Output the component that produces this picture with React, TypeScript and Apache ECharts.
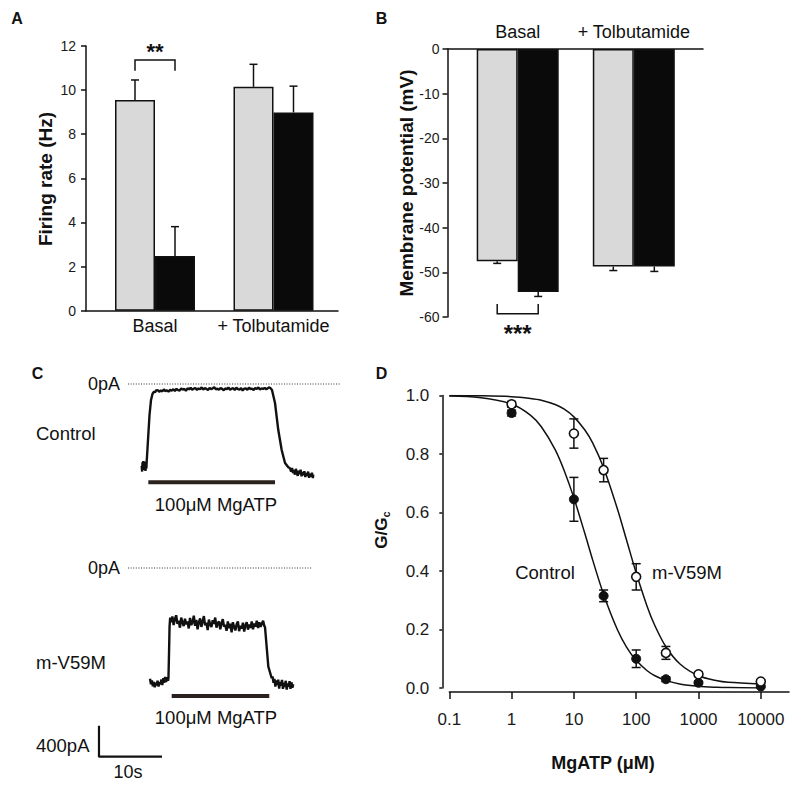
import React, { useEffect, useRef } from 'react';
import * as echarts from 'echarts';

const FONT = '"Liberation Sans", Arial, Helvetica, sans-serif';
const INK = '#111111';

// ---------- Panel A: firing rate ----------
const groupsA = ['Basal', '+ Tolbutamide'];
const firingControl = [9.55, 10.15];
const firingControlErrTop = [10.46, 11.17];
const firingMutant = [2.48, 8.99];
const firingMutantErrTop = [3.81, 10.18];
const sigA = { group: 0, level: 11.37, leg: 10.88, label: '**' };

// ---------- Panel B: membrane potential ----------
const groupsB = ['Basal', '+ Tolbutamide'];
const vmControl = [-47.5, -48.7];
const vmControlErrBottom = [-48.0, -49.6];
const vmMutant = [-54.4, -48.7];
const vmMutantErrBottom = [-55.4, -49.8];
const sigB = { group: 0, level: -59.3, leg: -57.1, label: '***' };

// ---------- Panel C: current traces [time s, current pA] ----------
const controlTrace: number[][] = [
  [17.73, -1058], [17.8, -1130], [17.86, -1010], [17.93, -1110], [17.98, -994], [18.05, -1080], [18.13, -1000],
  [18.2, -1095], [18.25, -1019], [18.33, -1120], [18.41, -1040], [18.47, -1090], [18.52, -1006],
  [18.73, -723], [18.97, -400], [19.21, -206], [19.44, -129], [19.68, -97], [19.85, -108], [20.0, -84],
  [20.25, -78], [20.5, -101], [20.75, -84], [21.0, -95], [21.25, -70], [21.5, -92], [21.75, -81], [22.0, -99],
  [22.25, -74], [22.5, -86], [22.75, -68], [23.0, -90], [23.25, -62], [23.5, -79], [23.75, -85], [24.0, -57],
  [24.25, -73], [24.5, -64], [24.75, -88], [25.0, -55], [25.25, -69], [25.5, -48], [25.75, -75], [26.0, -60],
  [26.25, -52], [26.5, -77], [26.75, -58], [27.0, -66], [27.25, -44], [27.5, -71], [27.75, -53], [28.0, -62],
  [28.25, -80], [28.5, -49], [28.75, -67], [29.0, -56], [29.25, -41], [29.5, -70], [29.75, -59], [30.0, -75],
  [30.25, -51], [30.5, -63], [30.75, -82], [31.0, -57], [31.25, -68], [31.5, -46], [31.75, -73], [32.0, -60],
  [32.25, -54], [32.5, -78], [32.75, -49], [33.0, -65], [33.25, -71], [33.5, -52], [33.75, -84], [34.0, -61],
  [34.25, -56], [34.5, -74], [34.75, -47], [35.0, -66], [35.25, -58], [35.5, -79], [35.75, -53], [36.0, -62],
  [36.25, -45], [36.5, -71], [36.75, -57], [37.0, -64], [37.25, -50], [37.5, -69], [37.75, -55], [38.0, -43],
  [38.25, -60],
  [38.41, -77], [38.89, -245], [39.41, -594], [39.95, -852], [40.48, -1019], [41.0, -1075], [41.27, -1088],
  [41.45, -1130], [41.6, -1085], [41.75, -1150], [41.9, -1110], [42.05, -1170], [42.2, -1095], [42.35, -1140],
  [42.5, -1185], [42.65, -1120], [42.8, -1165], [42.95, -1105], [43.1, -1190], [43.25, -1135], [43.4, -1175],
  [43.55, -1125], [43.7, -1200], [43.85, -1150], [44.0, -1185], [44.15, -1130], [44.3, -1210], [44.45, -1160],
  [44.6, -1195], [44.75, -1145], [44.9, -1215], [44.97, -1170],
];
const mutantTrace: number[][] = [
  [19.05, -1430], [19.2, -1500], [19.35, -1450], [19.5, -1525], [19.65, -1470], [19.8, -1540], [19.95, -1480],
  [20.1, -1515], [20.25, -1455], [20.4, -1530], [20.55, -1475], [20.7, -1500], [20.85, -1440], [21.0, -1510],
  [21.15, -1420], [21.3, -1480], [21.45, -1405], [21.6, -1470], [21.75, -1410], [21.9, -1455], [21.98, -1420],
  [22.08, -1050], [22.15, -760], [22.25, -640],
  [22.4, -700], [22.6, -625], [22.8, -735], [23.0, -660], [23.2, -610], [23.4, -720], [23.6, -680], [23.8, -770],
  [24.0, -640], [24.2, -705], [24.4, -750], [24.6, -655], [24.8, -725], [25.0, -690], [25.2, -780], [25.4, -645],
  [25.6, -735], [25.8, -700], [26.0, -615], [26.2, -745], [26.4, -670], [26.6, -790], [26.8, -700], [27.0, -650],
  [27.2, -760], [27.4, -690], [27.6, -620], [27.8, -740], [28.0, -705], [28.2, -800], [28.4, -665], [28.6, -730],
  [28.8, -760], [29.0, -675], [29.2, -720], [29.4, -640], [29.6, -770], [29.8, -710], [30.0, -690], [30.2, -790],
  [30.4, -715], [30.6, -660], [30.8, -755], [31.0, -735], [31.2, -810], [31.4, -690], [31.6, -775], [31.8, -720],
  [32.0, -830], [32.2, -700], [32.4, -760], [32.6, -805], [32.8, -725], [33.0, -690], [33.2, -815], [33.4, -745],
  [33.6, -780], [33.8, -705], [34.0, -820], [34.2, -740], [34.4, -700], [34.6, -795], [34.8, -730], [35.0, -770],
  [35.2, -690], [35.4, -790], [35.6, -715], [35.8, -755], [36.0, -680], [36.2, -775], [36.4, -700], [36.6, -760],
  [36.8, -720], [37.0, -680], [37.2, -750], [37.3, -760],
  [37.83, -1273], [38.37, -1423],
  [38.5, -1400], [38.65, -1480], [38.8, -1430], [38.95, -1530], [39.1, -1450], [39.25, -1510], [39.4, -1440],
  [39.55, -1555], [39.7, -1470], [39.85, -1520], [40.0, -1445], [40.15, -1560], [40.3, -1480], [40.45, -1535],
  [40.6, -1455], [40.75, -1570], [40.9, -1490], [41.05, -1530], [41.2, -1460], [41.35, -1560], [41.5, -1475],
  [41.65, -1545], [41.79, -1500],
];
const zeroLineControl = [15.56, 49.2];
const zeroLineMutant = [15.56, 44.76];
const applicationControl = { start: 18.78, end: 38.89, level: -1268 };
const applicationMutant = { start: 22.49, end: 37.98, level: -1652 };
const scaleBar = { t: 10.95, i: -2435, seconds: 10, pA: 400 };

// ---------- Panel D: dose response ----------
const xTickValues = [0.1, 1, 10, 100, 1000, 10000];
const atpConc = [1, 10, 30, 100, 300, 1000, 10000];
const gControl = [0.94, 0.645, 0.315, 0.10, 0.03, 0.018, 0.005];
const gControlErr = [0.01, 0.075, 0.02, 0.03, 0.008, 0.005, 0.003];
const gMutant = [0.97, 0.87, 0.745, 0.38, 0.12, 0.047, 0.022];
const gMutantErr = [0.01, 0.05, 0.04, 0.045, 0.022, 0.008, 0.005];
const fitConc = [0.1, 0.3, 1, 2, 3, 5, 7, 10, 15, 20, 30, 50, 70, 100, 150, 200, 300, 500, 1000, 2000, 3000, 10000];
const fitControl = [0.998, 0.993, 0.971, 0.933, 0.893, 0.815, 0.743, 0.650, 0.528, 0.438, 0.320, 0.199, 0.140, 0.0945, 0.059, 0.042, 0.026, 0.0138, 0.0058, 0.0025, 0.0015, 0.0003];
const fitMutant = [1.0, 0.999, 0.996, 0.990, 0.984, 0.969, 0.953, 0.927, 0.882, 0.838, 0.753, 0.612, 0.506, 0.393, 0.279, 0.213, 0.141, 0.083, 0.042, 0.0245, 0.0194, 0.0136];

const lg = (v: number) => Math.log10(v);

function axisLineStyle(w = 1.5) {
  return { show: true, onZero: false, lineStyle: { color: INK, width: w } };
}

function hiddenAxis(gridIndex: number, min: number, max: number) {
  return { type: 'value', gridIndex, min, max, show: false };
}

function errorBarRenderer(half: number, cap: number) {
  return (params: any, api: any) => {
    const cat = api.value(0);
    const end = api.value(1);
    const val = api.value(2);
    const side = api.value(3);
    const p = api.coord([cat, val]);
    const e = api.coord([cat, end]);
    const x = p[0] + side * half;
    const style = { stroke: INK, lineWidth: 1.5 };
    return {
      type: 'group',
      children: [
        { type: 'line', shape: { x1: x, y1: p[1], x2: x, y2: e[1] }, style },
        { type: 'line', shape: { x1: x - cap, y1: e[1], x2: x + cap, y2: e[1] }, style },
      ],
    };
  };
}

function bracketRenderer(half: number, label: string, textDy: number, size: number) {
  return (params: any, api: any) => {
    const cat = api.value(0);
    const lvl = api.coord([cat, api.value(1)]);
    const leg = api.coord([cat, api.value(2)]);
    const x1 = lvl[0] - half;
    const x2 = lvl[0] + half;
    return {
      type: 'group',
      children: [
        {
          type: 'polyline',
          shape: { points: [[x1, leg[1]], [x1, lvl[1]], [x2, lvl[1]], [x2, leg[1]]] },
          style: { stroke: INK, lineWidth: 1.5, fill: 'none' },
        },
        {
          type: 'text',
          x: lvl[0],
          y: lvl[1] + textDy,
          style: { text: label, fontSize: size, fontWeight: 'bold', fontFamily: FONT, fill: INK, align: 'center', verticalAlign: 'middle' },
        },
      ],
    };
  };
}

function txt(x: number, y: number, text: string, size: number, opts: any = {}) {
  return {
    type: 'text',
    x,
    y,
    rotation: opts.rotation || 0,
    style: {
      text,
      fontSize: size,
      fontFamily: FONT,
      fontWeight: opts.bold ? 'bold' : 'normal',
      fill: INK,
      align: opts.align || 'center',
      verticalAlign: 'middle',
    },
  };
}

function buildOption() {
  const tickLabel = { fontSize: 14, color: '#1a1a1a', fontFamily: FONT };
  const barBorder = { borderColor: INK, borderWidth: 1.5 };

  const errA: number[][] = [];
  firingControl.forEach((v, i) => errA.push([i, firingControlErrTop[i], v, -1]));
  firingMutant.forEach((v, i) => errA.push([i, firingMutantErrTop[i], v, 1]));
  const errB: number[][] = [];
  vmControl.forEach((v, i) => errB.push([i, vmControlErrBottom[i], v, -1]));
  vmMutant.forEach((v, i) => errB.push([i, vmMutantErrBottom[i], v, 1]));

  const errD: number[][] = [];
  atpConc.forEach((c, i) => errD.push([lg(c), gControl[i] - gControlErr[i], gControl[i] + gControlErr[i]]));
  atpConc.forEach((c, i) => errD.push([lg(c), gMutant[i] - gMutantErr[i], gMutant[i] + gMutantErr[i]]));

  const grid = [
    { left: 86, top: 46, width: 252, height: 264.7 },
    { left: 95.75, top: 46, width: 237, height: 264.7 },
    { left: 447.5, top: 49, width: 255.5, height: 268 },
    { left: 459.65, top: 49, width: 232.2, height: 268 },
    { left: 30, top: 368.5, width: 315, height: 124 },
    { left: 30, top: 552.5, width: 315, height: 217 },
    { left: 449.3, top: 395.5, width: 339.7, height: 292.5 },
  ].map((g) => ({ ...g, containLabel: false, outerBoundsMode: 'none', show: false }));

  const catLabel = { fontSize: 18, color: INK, fontFamily: FONT, interval: 0, hideOverlap: false };

  const xAxis: any[] = [
    { type: 'value', gridIndex: 0, min: 0, max: 1, axisLine: axisLineStyle(), axisTick: { show: false }, axisLabel: { show: false }, splitLine: { show: false } },
    {
      type: 'category', gridIndex: 1, data: groupsA, axisLine: { show: false }, axisTick: { show: false },
      axisLabel: { ...catLabel, margin: 6 },
    },
    { type: 'value', gridIndex: 2, position: 'top', min: 0, max: 1, axisLine: axisLineStyle(), axisTick: { show: false }, axisLabel: { show: false }, splitLine: { show: false } },
    {
      type: 'category', gridIndex: 3, position: 'top', data: groupsB, axisLine: { show: false }, axisTick: { show: false },
      axisLabel: { ...catLabel, margin: 8 },
    },
    hiddenAxis(4, 0, 50),
    hiddenAxis(5, 0, 50),
    {
      type: 'value', gridIndex: 6, min: lg(xTickValues[0]), max: 4.453, interval: 1, offset: 4,
      axisLine: axisLineStyle(),
      axisTick: { show: true, length: 7, lineStyle: { color: INK, width: 1.5 }, customValues: xTickValues.map(lg) },
      axisLabel: {
        fontSize: 17, color: '#1a1a1a', fontFamily: FONT, margin: 19,
        customValues: xTickValues.map(lg),
        formatter: (v: number) => {
          const r = Math.pow(10, v);
          return r < 1 ? String(Number(r.toPrecision(3))) : String(Math.round(r));
        },
      },
      splitLine: { show: false },
    },
  ];

  const yAxis: any[] = [
    {
      type: 'value', gridIndex: 0, min: 0, max: 12, interval: 2,
      axisLine: axisLineStyle(), axisTick: { show: true, length: 5, lineStyle: { color: INK, width: 1.5 } },
      axisLabel: { ...tickLabel, margin: 10 }, splitLine: { show: false },
    },
    hiddenAxis(1, 0, 12),
    {
      type: 'value', gridIndex: 2, min: -60, max: 0, interval: 10,
      axisLine: axisLineStyle(), axisTick: { show: true, length: 5, lineStyle: { color: INK, width: 1.5 } },
      axisLabel: { ...tickLabel, margin: 8 }, splitLine: { show: false },
    },
    hiddenAxis(3, -60, 0),
    hiddenAxis(4, -1400, 200),
    hiddenAxis(5, -2600, 200),
    {
      type: 'value', gridIndex: 6, min: 0, max: 1, interval: 0.2, offset: 7,
      axisLine: axisLineStyle(), axisTick: { show: true, length: 3, lineStyle: { color: INK, width: 1.5 } },
      axisLabel: { fontSize: 17, color: '#1a1a1a', fontFamily: FONT, margin: 13, formatter: (v: number) => v.toFixed(1) },
      splitLine: { show: false },
    },
  ];

  const thinLine = (width: number, color = INK, type: any = 'solid') => ({ width, color, type });

  const series: any[] = [
    // Panel A
    { type: 'bar', xAxisIndex: 1, yAxisIndex: 1, data: firingControl, barWidth: 40, barGap: '0%', itemStyle: { color: '#d9d9d9', ...barBorder }, z: 3 },
    { type: 'bar', xAxisIndex: 1, yAxisIndex: 1, data: firingMutant, barWidth: 40, barGap: '0%', itemStyle: { color: '#0a0a0a', ...barBorder }, z: 3 },
    { type: 'custom', xAxisIndex: 1, yAxisIndex: 1, data: errA, encode: { x: 0, y: 1 }, renderItem: errorBarRenderer(20, 4), z: 2 },
    { type: 'custom', xAxisIndex: 1, yAxisIndex: 1, data: [[sigA.group, sigA.level, sigA.leg]], encode: { x: 0, y: 1 }, renderItem: bracketRenderer(20, sigA.label, -8, 22), z: 4 },
    // Panel B
    { type: 'bar', xAxisIndex: 3, yAxisIndex: 3, data: vmControl, barWidth: 41, barGap: '0%', itemStyle: { color: '#d9d9d9', ...barBorder }, z: 3 },
    { type: 'bar', xAxisIndex: 3, yAxisIndex: 3, data: vmMutant, barWidth: 41, barGap: '0%', itemStyle: { color: '#0a0a0a', ...barBorder }, z: 3 },
    { type: 'custom', xAxisIndex: 3, yAxisIndex: 3, data: errB, encode: { x: 0, y: 1 }, renderItem: errorBarRenderer(20.5, 4), z: 2 },
    { type: 'custom', xAxisIndex: 3, yAxisIndex: 3, data: [[sigB.group, sigB.level, sigB.leg]], encode: { x: 0, y: 1 }, renderItem: bracketRenderer(20.5, sigB.label, 20, 24), z: 4 },
    // Panel C, control
    { type: 'line', xAxisIndex: 4, yAxisIndex: 4, data: [[zeroLineControl[0], 0], [zeroLineControl[1], 0]], showSymbol: false, lineStyle: thinLine(1, '#333', [1, 1.6]) },
    { type: 'line', xAxisIndex: 4, yAxisIndex: 4, data: controlTrace, showSymbol: false, lineStyle: thinLine(2.4), z: 3 },
    { type: 'line', xAxisIndex: 4, yAxisIndex: 4, data: [[applicationControl.start, applicationControl.level], [applicationControl.end, applicationControl.level]], showSymbol: false, lineStyle: thinLine(4, '#2b211d') },
    // Panel C, mutant
    { type: 'line', xAxisIndex: 5, yAxisIndex: 5, data: [[zeroLineMutant[0], 0], [zeroLineMutant[1], 0]], showSymbol: false, lineStyle: thinLine(1, '#333', [1, 1.6]) },
    { type: 'line', xAxisIndex: 5, yAxisIndex: 5, data: mutantTrace, showSymbol: false, lineStyle: thinLine(2.4), z: 3 },
    { type: 'line', xAxisIndex: 5, yAxisIndex: 5, data: [[applicationMutant.start, applicationMutant.level], [applicationMutant.end, applicationMutant.level]], showSymbol: false, lineStyle: thinLine(4, '#2b211d') },
    {
      type: 'line', xAxisIndex: 5, yAxisIndex: 5, showSymbol: false, lineStyle: thinLine(2.2),
      data: [[scaleBar.t, scaleBar.i + scaleBar.pA], [scaleBar.t, scaleBar.i], [scaleBar.t + scaleBar.seconds, scaleBar.i]],
    },
    // Panel D
    { type: 'line', xAxisIndex: 6, yAxisIndex: 6, data: fitConc.map((c, i) => [lg(c), fitControl[i]]), smooth: 0.3, showSymbol: false, lineStyle: thinLine(1.5), z: 2 },
    { type: 'line', xAxisIndex: 6, yAxisIndex: 6, data: fitConc.map((c, i) => [lg(c), fitMutant[i]]), smooth: 0.3, showSymbol: false, lineStyle: thinLine(1.5), z: 2 },
    {
      type: 'custom', xAxisIndex: 6, yAxisIndex: 6, data: errD, encode: { x: 0, y: [1, 2] }, z: 3,
      renderItem: (params: any, api: any) => {
        const lo = api.coord([api.value(0), api.value(1)]);
        const hi = api.coord([api.value(0), api.value(2)]);
        const style = { stroke: INK, lineWidth: 1.5 };
        return {
          type: 'group',
          children: [
            { type: 'line', shape: { x1: lo[0], y1: lo[1], x2: hi[0], y2: hi[1] }, style },
            { type: 'line', shape: { x1: lo[0] - 4.5, y1: lo[1], x2: lo[0] + 4.5, y2: lo[1] }, style },
            { type: 'line', shape: { x1: hi[0] - 4.5, y1: hi[1], x2: hi[0] + 4.5, y2: hi[1] }, style },
          ],
        };
      },
    },
    {
      type: 'scatter', xAxisIndex: 6, yAxisIndex: 6, data: atpConc.map((c, i) => [lg(c), gControl[i]]),
      symbol: 'circle', symbolSize: 9, itemStyle: { color: INK, borderColor: INK, borderWidth: 1, opacity: 1 }, z: 4,
    },
    {
      type: 'scatter', xAxisIndex: 6, yAxisIndex: 6, data: atpConc.map((c, i) => [lg(c), gMutant[i]]),
      symbol: 'circle', symbolSize: 9, itemStyle: { color: '#ffffff', borderColor: INK, borderWidth: 1.6, opacity: 1 }, z: 5,
    },
  ];

  const graphic = [
    txt(17, 18.5, 'A', 16, { bold: true }),
    txt(381.5, 18.5, 'B', 16, { bold: true }),
    txt(37.5, 373, 'C', 16, { bold: true }),
    txt(381.5, 373, 'D', 16, { bold: true }),
    txt(45, 179, 'Firing rate (Hz)', 19, { bold: true, rotation: Math.PI / 2 }),
    txt(406, 183, 'Membrane potential (mV)', 19, { bold: true, rotation: Math.PI / 2 }),
    {
      type: 'text', x: 381, y: 530, rotation: Math.PI / 2,
      style: {
        text: '{a|G/G}{b|c}', fill: INK, align: 'center', verticalAlign: 'middle',
        rich: {
          a: { fontSize: 17, fontWeight: 'bold', fontFamily: FONT, fill: INK, lineHeight: 20 },
          b: { fontSize: 11, fontWeight: 'bold', fontFamily: FONT, fill: INK, lineHeight: 20, verticalAlign: 'bottom', padding: [8, 0, 0, 0] },
        },
      },
    },
    txt(603, 763, 'MgATP (μM)', 18, { bold: true }),
    txt(545, 572, 'Control', 18.5),
    txt(687, 572, 'm-V59M', 18.5),
    txt(120, 384, '0pA', 18, { align: 'right' }),
    txt(120, 568, '0pA', 18, { align: 'right' }),
    txt(36, 433, 'Control', 18.5, { align: 'left' }),
    txt(36, 662, 'm-V59M', 18.5, { align: 'left' }),
    txt(216, 504, '100μM MgATP', 18.5),
    txt(216, 717, '100μM MgATP', 18.5),
    txt(36, 745, '400pA', 18.5, { align: 'left' }),
    txt(128, 772, '10s', 18),
  ];

  return {
    animation: false,
    backgroundColor: '#ffffff',
    grid,
    xAxis,
    yAxis,
    series,
    graphic,
  };
}

export default function App() {
  const ref = useRef<HTMLDivElement>(null);
  useEffect(() => {
    if (!ref.current) return;
    const chart = echarts.init(ref.current, null, { renderer: 'svg' });
    chart.setOption(buildOption() as any);
    return () => chart.dispose();
  }, []);
  return (
    <div
      ref={ref}
      style={{ position: 'absolute', left: 0, top: 0, width: 800, height: 788, background: '#ffffff' }}
    />
  );
}
